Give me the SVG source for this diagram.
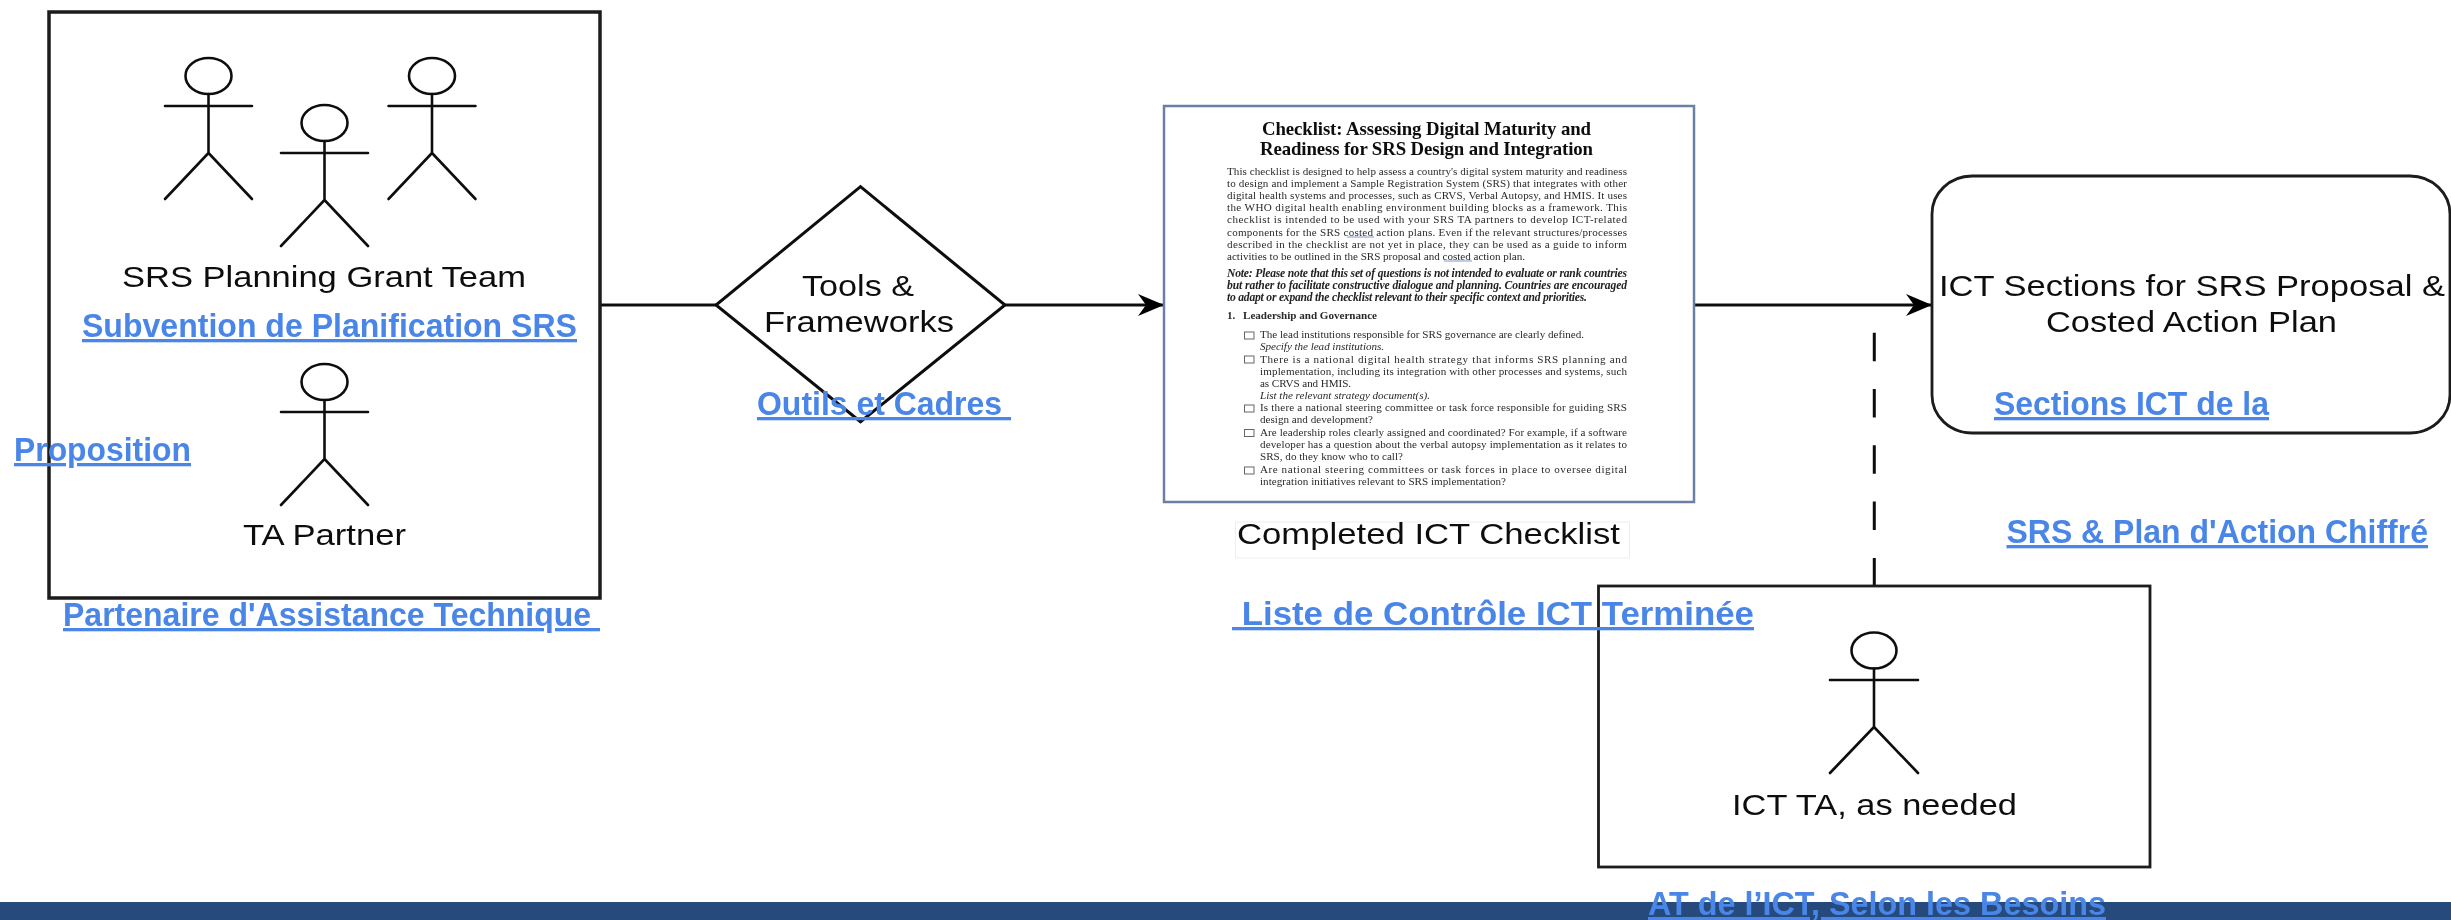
<svg xmlns="http://www.w3.org/2000/svg" width="2451" height="920" viewBox="0 0 2451 920">
<style>
text{font-family:"Liberation Sans",Arial,sans-serif}
.box{fill:#fff;stroke:#1a1a1a;stroke-width:3.5}
.thin{stroke-width:2.800}
.line{fill:none;stroke:#111;stroke-width:3}
.limb{fill:none;stroke:#111;stroke-width:2.600;stroke-linecap:round}
.t{font-size:30px;fill:#111}
.fr{font-size:33px;font-weight:700;fill:#4a86e8;text-decoration:underline;white-space:pre}
.doc{font-size:11.100px;fill:#2a2a2a}
.doc text{font-family:"Liberation Serif","Times New Roman",serif}
.h{font-size:18.800px;font-weight:700;fill:#111}
.n{font-size:11.600px;font-weight:700;font-style:italic;fill:#222}
.i{font-style:italic}
.cb{fill:none;stroke:#666;stroke-width:1}
.sq{stroke:#7f9bd0;stroke-width:1;fill:none}
</style>
<defs>
<filter id="soft" filterUnits="userSpaceOnUse" x="0" y="0" width="2451" height="920"><feGaussianBlur stdDeviation="0.5"/></filter>
<filter id="softer" filterUnits="userSpaceOnUse" x="0" y="0" width="2451" height="920"><feGaussianBlur stdDeviation="0.6"/></filter>
<filter id="faint" filterUnits="userSpaceOnUse" x="0" y="0" width="2451" height="920"><feGaussianBlur stdDeviation="0.35"/></filter>
<marker id="arrow" markerUnits="userSpaceOnUse" markerWidth="28" markerHeight="24" refX="26" refY="11" orient="auto"><path d="M0 0L26 11L0 22L8 11Z" fill="#000"/></marker>
<g id="actor" class="limb"><ellipse cx="0" cy="0" rx="23" ry="18"/><path d="M0 18V77M-43.500 30H43.500M-43.500 123L0 77L43.500 123"/></g>
</defs>
<rect width="2451" height="920" fill="#fff"/>
<rect id="footer-bar" x="0" y="902" width="2451" height="18" fill="#274a7d"/>
<g id="connectors" filter="url(#soft)">
<path class="line" d="M600 305H716"/>
<path class="line" d="M1005 305H1164" marker-end="url(#arrow)"/>
<path class="line" d="M1694 305H1932" marker-end="url(#arrow)"/>
<path class="line" d="M1874.300 332.700V586" stroke-dasharray="28.500 27.800"/>
</g>
<g filter="url(#soft)">
<g id="team-box">
<rect class="box" x="49" y="12" width="551" height="586"/>
<use href="#actor" x="208.500" y="76"/>
<use href="#actor" x="324.500" y="123"/>
<use href="#actor" x="432" y="76"/>
<use href="#actor" x="324.500" y="382"/>
<text class="t" x="122" y="287" textLength="404" lengthAdjust="spacingAndGlyphs">SRS Planning Grant Team</text>
<text class="t" x="243" y="545" textLength="163" lengthAdjust="spacingAndGlyphs">TA Partner</text>
</g>
<g id="tools-diamond">
<path d="M860.500 186.700L1005 305L860.500 421.700L716 305Z" fill="#fff" stroke="#111" stroke-width="3"/>
<text class="t" x="802" y="296" textLength="112" lengthAdjust="spacingAndGlyphs">Tools &amp;</text>
<text class="t" x="764" y="332" textLength="190" lengthAdjust="spacingAndGlyphs">Frameworks</text>
</g>
<g id="sections-box">
<rect class="box thin" x="1932" y="176" width="518" height="257" rx="40" ry="38"/>
<text class="t" x="1939" y="296" textLength="506" lengthAdjust="spacingAndGlyphs">ICT Sections for SRS Proposal &amp;</text>
<text class="t" x="2046" y="332" textLength="291" lengthAdjust="spacingAndGlyphs">Costed Action Plan</text>
</g>
<g id="ict-ta-box">
<rect class="box thin" x="1598.500" y="586" width="551.500" height="281"/>
<g class="limb"><ellipse cx="1874" cy="650.500" rx="22.500" ry="18"/><path d="M1874 668.500V727M1830 680H1918M1830 773L1874 727L1918 773"/></g>
<text class="t" x="1732" y="815" textLength="285" lengthAdjust="spacingAndGlyphs">ICT TA, as needed</text>
</g>
<g id="completed-caption">
<rect x="1235.500" y="522" width="394" height="36" fill="#fff" stroke="#eee"/>
<text class="t" x="1237" y="544" textLength="383" lengthAdjust="spacingAndGlyphs">Completed ICT Checklist</text>
</g>
</g>
<g id="checklist">
<rect x="1164" y="106" width="530" height="396" fill="#fff" stroke="#6c7fa3" stroke-width="2.500"/>
<g class="doc" filter="url(#softer)">
<text class="h" x="1262" y="135" textLength="329">Checklist: Assessing Digital Maturity and</text>
<text class="h" x="1260" y="155" textLength="333">Readiness for SRS Design and Integration</text>
<text x="1227" y="175" textLength="400">This checklist is designed to help assess a country's digital system maturity and readiness</text>
<text x="1227" y="187" textLength="400">to design and implement a Sample Registration System (SRS) that integrates with other</text>
<text x="1227" y="199" textLength="400">digital health systems and processes, such as CRVS, Verbal Autopsy, and HMIS. It uses</text>
<text x="1227" y="211" textLength="400">the WHO digital health enabling environment building blocks as a framework. This</text>
<text x="1227" y="223" textLength="400">checklist is intended to be used with your SRS TA partners to develop ICT-related</text>
<text x="1227" y="235.500" textLength="400">components for the SRS costed action plans. Even if the relevant structures/processes</text>
<text x="1227" y="247.500" textLength="400">described in the checklist are not yet in place, they can be used as a guide to inform</text>
<text x="1227" y="259.500" textLength="298">activities to be outlined in the SRS proposal and costed action plan.</text>
<path class="sq" d="M1347 237H1374M1444 261H1472"/>
<text class="n" x="1227" y="277" textLength="400">Note: Please note that this set of questions is not intended to evaluate or rank countries</text>
<text class="n" x="1227" y="289" textLength="400">but rather to facilitate constructive dialogue and planning. Countries are encouraged</text>
<text class="n" x="1227" y="301" textLength="360">to adapt or expand the checklist relevant to their specific context and priorities.</text>
<text x="1227" y="319" font-weight="700">1.</text>
<text x="1243" y="319" font-weight="700" textLength="134">Leadership and Governance</text>
<rect class="cb" x="1244.500" y="332" width="9.500" height="7"/>
<text x="1260" y="338" textLength="324">The lead institutions responsible for SRS governance are clearly defined.</text>
<text class="i" x="1260" y="350" textLength="124">Specify the lead institutions.</text>
<rect class="cb" x="1244.500" y="356" width="9.500" height="7"/>
<text x="1260" y="362.700" textLength="367">There is a national digital health strategy that informs SRS planning and</text>
<text x="1260" y="374.700" textLength="367">implementation, including its integration with other processes and systems, such</text>
<text x="1260" y="386.700" textLength="91">as CRVS and HMIS.</text>
<text class="i" x="1260" y="398.700" textLength="170">List the relevant strategy document(s).</text>
<rect class="cb" x="1244.500" y="405" width="9.500" height="7"/>
<text x="1260" y="411.300" textLength="367">Is there a national steering committee or task force responsible for guiding SRS</text>
<text x="1260" y="423.300" textLength="113">design and development?</text>
<rect class="cb" x="1244.500" y="429.500" width="9.500" height="7"/>
<text x="1260" y="436" textLength="367">Are leadership roles clearly assigned and coordinated? For example, if a software</text>
<text x="1260" y="448" textLength="367">developer has a question about the verbal autopsy implementation as it relates to</text>
<text x="1260" y="460" textLength="143">SRS, do they know who to call?</text>
<rect class="cb" x="1244.500" y="467" width="9.500" height="7"/>
<text x="1260" y="473" textLength="367">Are national steering committees or task forces in place to oversee digital</text>
<text x="1260" y="485" textLength="246">integration initiatives relevant to SRS implementation?</text>
</g>
</g>
<g id="french-labels" filter="url(#faint)">
<text class="fr" x="82" y="337" textLength="495" lengthAdjust="spacingAndGlyphs">Subvention de Planification SRS</text>
<text class="fr" x="14" y="461" textLength="177" lengthAdjust="spacingAndGlyphs">Proposition</text>
<text class="fr" x="63" y="626" textLength="537" lengthAdjust="spacingAndGlyphs" xml:space="preserve">Partenaire d'Assistance Technique </text>
<text class="fr" x="757" y="415" textLength="254" lengthAdjust="spacingAndGlyphs" xml:space="preserve">Outils et Cadres </text>
<text class="fr" x="1232" y="625" textLength="522" lengthAdjust="spacingAndGlyphs" xml:space="preserve"> Liste de Contrôle ICT Terminée</text>
<text class="fr" x="1994" y="415" textLength="275" lengthAdjust="spacingAndGlyphs">Sections ICT de la</text>
<text class="fr" x="2006.500" y="543" textLength="421.500" lengthAdjust="spacingAndGlyphs">SRS &amp; Plan d'Action Chiffré</text>
<text class="fr" x="1648" y="915" textLength="458" lengthAdjust="spacingAndGlyphs">AT de l’ICT, Selon les Besoins</text>
</g>
</svg>
